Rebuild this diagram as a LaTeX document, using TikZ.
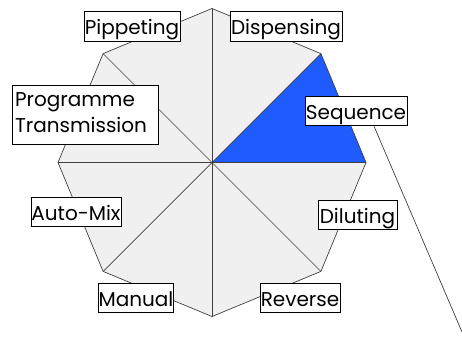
\documentclass[tikz,border=0pt]{standalone}
\usepackage{fontspec}
\setmainfont{Poppins}
\usetikzlibrary{calc}
\definecolor{octfill}{HTML}{F0F0F0}
\definecolor{octline}{HTML}{404040}
\definecolor{secblue}{HTML}{1F5BFF}
\begin{document}
\begin{tikzpicture}[x=1pt,y=-1pt,
  lblbase/.style={draw=black, fill=white, line width=0.9pt, inner xsep=0.5pt, inner ysep=0.5pt,
    font=\fontsize{20}{26}\selectfont},
  lbl/.style={lblbase, text height=22.5pt, text depth=6pt},
  spoke/.style={draw=octline, line width=0.7pt}]
\useasboundingbox (0,0) rectangle (462,360);
\coordinate (c) at (212,162.5);
\foreach \a [count=\i] in {0,45,...,315} {
  \coordinate (v\i) at ($(c)+(\a:154 and -154)$);
}
\fill[octfill] (v1)--(v2)--(v3)--(v4)--(v5)--(v6)--(v7)--(v8)--cycle;
\fill[secblue] (c)--(v1)--(v2)--cycle;
\draw[spoke] (v1)--(v2)--(v3)--(v4)--(v5)--(v6)--(v7)--(v8)--cycle;
\foreach \i in {1,...,8} { \draw[spoke] (c)--(v\i); }
\node[lbl, minimum width=96pt] (pip) at (132,26.3) {Pippeting};
\node[lbl, minimum width=112pt] (dis) at (286,26.3) {Dispensing};
\node[lbl, minimum width=102pt] (seq) at (356,111) {Sequence};
\node[lblbase, text width=140pt, align=left, inner xsep=3pt, minimum height=59pt] (prog) at (85,114.5) {\strut Programme\\\strut Transmission};
\node[lbl, minimum width=90pt] (mix) at (76,212) {Auto-Mix};
\node[lbl, minimum width=79pt] (dil) at (357.5,215) {Diluting};
\node[lbl, minimum width=72pt] (man) at (136,297.8) {Manual};
\node[lbl, minimum width=80pt] (rev) at (300,297.8) {Reverse};
\coordinate (tail) at (462,332);
\draw[spoke] (seq.south -| 374,0) -- (tail);
\end{tikzpicture}
\end{document}
